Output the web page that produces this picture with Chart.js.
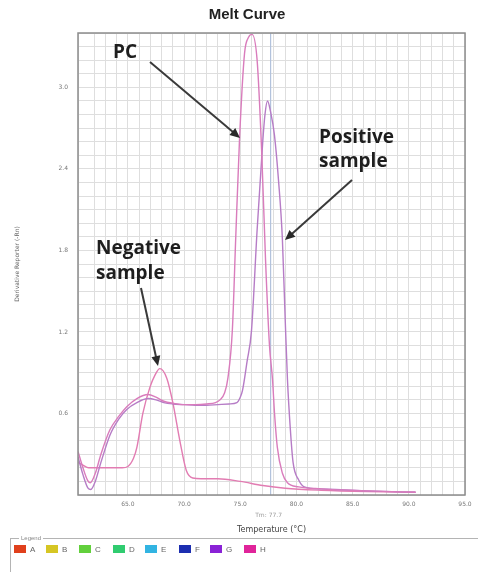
<!DOCTYPE html>
<html>
<head>
<meta charset="utf-8">
<script src="https://cdn.jsdelivr.net/npm/chart.js@4.4.0/dist/chart.umd.min.js"></script>
<style>
  body { margin: 0; background: #fff; width: 478px; height: 572px; overflow: hidden; position: relative; font-family: "Liberation Sans", Arial, sans-serif; }
  #wrap { position: absolute; left: 0; top: 0; width: 478px; height: 535px; }
  #legendBox { position: absolute; left: 10px; top: 538px; width: 468px; height: 40px; border-top: 1px solid #b4b4b4; border-left: 1px solid #b4b4b4; }
  #legendBox .cap { position: absolute; left: 8px; top: -5px; font-size: 6px; color: #888; background: #fff; padding: 0 2px; line-height: 8px; }
  .item { position: absolute; top: 6px; font-size: 8px; color: #666; line-height: 9px; }
  .sw { display: inline-block; width: 12px; height: 8px; margin-right: 4px; vertical-align: top; }
</style>
</head>
<body>
<div id="wrap"><canvas id="melt" width="478" height="535"></canvas></div>
<div id="legendBox"><span class="cap">Legend</span></div>
<script>
// melt curve traces (temperature in °C, derivative reporter -Rn)
const pcTemp = [60.56, 61.0, 61.4, 61.65, 62.1, 62.6, 63.4, 64.2, 64.9, 65.8, 66.8, 67.5, 68.2, 69.0, 70.0, 71.0, 72.0, 72.8, 73.2, 73.6, 73.9, 74.3, 74.6, 74.94, 75.38, 75.75, 76.05, 76.5, 76.9, 77.25, 77.6, 77.87, 78.05, 78.3, 78.75, 79.2, 80.2, 82.2, 86.3, 90.6]
const pcValue = [0.32, 0.20, 0.11, 0.09, 0.16, 0.30, 0.48, 0.58, 0.65, 0.71, 0.74, 0.72, 0.69, 0.675, 0.665, 0.665, 0.67, 0.68, 0.70, 0.75, 0.86, 1.22, 1.90, 2.63, 3.25, 3.37, 3.39, 3.20, 2.54, 1.73, 1.10, 0.85, 0.60, 0.35, 0.16, 0.09, 0.06, 0.045, 0.03, 0.02]

const posTemp = [60.56, 61.0, 61.45, 61.7, 62.1, 62.6, 63.4, 64.2, 64.9, 65.8, 66.8, 67.5, 68.2, 69.0, 70.0, 71.0, 72.0, 73.0, 74.0, 74.7, 75.0, 75.2, 75.6, 76.0, 76.5, 77.0, 77.2, 77.42, 77.7, 78.04, 78.4, 78.75, 79.0, 79.2, 79.46, 79.7, 80.2, 80.7, 82.2, 86.3, 90.6]
const posValue = [0.28, 0.15, 0.05, 0.04, 0.10, 0.24, 0.44, 0.56, 0.63, 0.68, 0.71, 0.70, 0.68, 0.67, 0.665, 0.66, 0.66, 0.665, 0.67, 0.68, 0.72, 0.77, 0.98, 1.21, 1.95, 2.60, 2.80, 2.90, 2.82, 2.65, 2.32, 1.88, 1.29, 0.85, 0.48, 0.24, 0.11, 0.06, 0.045, 0.03, 0.02]

const negTemp = [60.56, 61.0, 61.5, 62.5, 63.5, 64.5, 65.0, 65.5, 65.8, 66.33, 66.95, 67.4, 67.84, 68.46, 69.0, 69.6, 70.2, 70.77, 71.5, 73.0, 75.0, 77.0, 79.0, 82.2, 86.3, 90.6]
const negValue = [0.24, 0.22, 0.20, 0.20, 0.20, 0.20, 0.21, 0.27, 0.35, 0.60, 0.79, 0.88, 0.93, 0.86, 0.68, 0.41, 0.18, 0.125, 0.12, 0.12, 0.10, 0.07, 0.05, 0.035, 0.025, 0.02]

const tm = 77.7
const wellNames = ['A', 'B', 'C', 'D', 'E', 'F', 'G', 'H']
const wellColors = ['#e0401c', '#d6c624', '#62d03c', '#30cc70', '#32b4e2', '#1c2eb0', '#8a22d6', '#e0249a']
const wellLeft = [3, 35, 68, 102, 134, 168, 199, 233]

function toPoints(xs, ys) {
    return xs.map((x, i) => ({x: x, y: ys[i]}))
}

// legend strip under the plot
let box = document.getElementById('legendBox')
wellNames.forEach((n, i) => {
    let d = document.createElement('div')
    d.className = 'item'
    d.style.left = wellLeft[i] + 'px'
    d.innerHTML = '<span class="sw" style="background:' + wellColors[i] + '"></span>' + n
    box.appendChild(d)
})

function arrow(ctx, x1, y1, x2, y2) {
    let a = Math.atan2(y2 - y1, x2 - x1)
    let len = 10, w = 4.5
    ctx.save()
    ctx.strokeStyle = '#3a3a3a'
    ctx.fillStyle = '#2a2a2a'
    ctx.lineWidth = 2
    ctx.beginPath()
    ctx.moveTo(x1, y1)
    ctx.lineTo(x2 - Math.cos(a) * len * 0.8, y2 - Math.sin(a) * len * 0.8)
    ctx.stroke()
    ctx.beginPath()
    ctx.moveTo(x2, y2)
    ctx.lineTo(x2 - Math.cos(a) * len - Math.sin(a) * w, y2 - Math.sin(a) * len + Math.cos(a) * w)
    ctx.lineTo(x2 - Math.cos(a) * len + Math.sin(a) * w, y2 - Math.sin(a) * len - Math.cos(a) * w)
    ctx.closePath()
    ctx.fill()
    ctx.restore()
}

const decorations = {
    id: 'decorations',
    beforeDatasetsDraw(chart) {
        let ctx = chart.ctx
        let area = chart.chartArea
        let x = chart.scales.x.getPixelForValue(tm)
        ctx.save()
        ctx.strokeStyle = '#b2c2dc'
        ctx.lineWidth = 1.2
        ctx.beginPath()
        ctx.moveTo(x, area.top)
        ctx.lineTo(x, area.bottom)
        ctx.stroke()
        ctx.restore()
    },
    afterDraw(chart) {
        let ctx = chart.ctx
        let area = chart.chartArea
        ctx.save()
        ctx.strokeStyle = '#8c8c8c'
        ctx.lineWidth = 1.5
        ctx.strokeRect(area.left, area.top, area.right - area.left, area.bottom - area.top)

        ctx.fillStyle = '#222'
        ctx.font = 'bold 15px "Liberation Sans", Arial, sans-serif'
        ctx.textAlign = 'center'
        ctx.textBaseline = 'middle'
        ctx.fillText('Melt Curve', 247, 15)

        ctx.fillStyle = '#999'
        ctx.font = '6px "DejaVu Sans", sans-serif'
        ctx.fillText('Tm: ' + tm.toFixed(1), chart.scales.x.getPixelForValue(tm) - 2, 515)

        ctx.fillStyle = '#1e1e1e'
        ctx.font = 'bold 19px "Open Sans", sans-serif'
        ctx.textAlign = 'left'
        ctx.textBaseline = 'alphabetic'
        ctx.fillText('PC', 113, 58)
        ctx.fillText('Positive', 319, 143)
        ctx.fillText('sample', 319, 167)
        ctx.fillText('Negative', 96, 254)
        ctx.fillText('sample', 96, 279)
        ctx.restore()

        arrow(ctx, 150, 62, 240, 138)
        arrow(ctx, 352, 180, 285, 240)
        arrow(ctx, 141, 288, 158, 366)
    }
}

function near(v, step) {
    return Math.abs(v / step - Math.round(v / step)) < 1e-6
}

const data = {
    datasets: [{
            label: 'PC',
            data: toPoints(pcTemp, pcValue),
            borderColor: '#d97cbc',
            borderWidth: 1.4
        }, {
            label: 'Positive sample',
            data: toPoints(posTemp, posValue),
            borderColor: '#b67cc6',
            borderWidth: 1.4
        }, {
            label: 'Negative sample',
            data: toPoints(negTemp, negValue),
            borderColor: '#e27cb2',
            borderWidth: 1.4
        }]
}

const config = {
    type: 'line',
    data: data,
    options: {
        responsive: false,
        animation: false,
        devicePixelRatio: 1,
        layout: { padding: { top: 33, right: 13, left: 0, bottom: 0 } },
        elements: {
            point: { radius: 0 },
            line: { cubicInterpolationMode: 'monotone', fill: false }
        },
        plugins: {
            legend: { display: false },
            tooltip: { enabled: false },
            title: { display: false }
        },
        scales: {
            x: {
                type: 'linear',
                min: 60.56,
                max: 95,
                afterFit(s) { s.height = 40 },
                grid: { color: '#dedede', lineWidth: 1, drawTicks: false },
                border: { display: false },
                ticks: {
                    stepSize: 1,
                    autoSkip: false,
                    maxRotation: 0,
                    padding: 6,
                    color: '#777',
                    font: { size: 6, family: '"DejaVu Sans", sans-serif' },
                    callback: v => near(v, 5) ? v.toFixed(1) : ''
                },
                title: {
                    display: true,
                    text: 'Temperature (°C)',
                    color: '#444',
                    font: { size: 8, family: '"DejaVu Sans", sans-serif' },
                    padding: { top: 4, bottom: 0 }
                }
            },
            y: {
                min: 0,
                max: 3.4,
                afterFit(s) { s.width = 78 },
                grid: { color: '#dedede', lineWidth: 1, drawTicks: false },
                border: { display: false },
                ticks: {
                    stepSize: 0.1,
                    autoSkip: false,
                    padding: 10,
                    color: '#777',
                    font: { size: 6, family: '"DejaVu Sans", sans-serif' },
                    callback: v => (v > 0.01 && near(v, 0.6)) ? v.toFixed(1) : ''
                },
                title: {
                    display: true,
                    text: 'Derivative Reporter (-Rn)',
                    color: '#666',
                    font: { size: 6, family: '"DejaVu Sans", sans-serif' },
                    padding: { top: 14, bottom: 0 }
                }
            }
        }
    },
    plugins: [decorations]
}

let ctx = document.getElementById('melt').getContext('2d')
new Chart(ctx, config)
</script>
</body>
</html>
